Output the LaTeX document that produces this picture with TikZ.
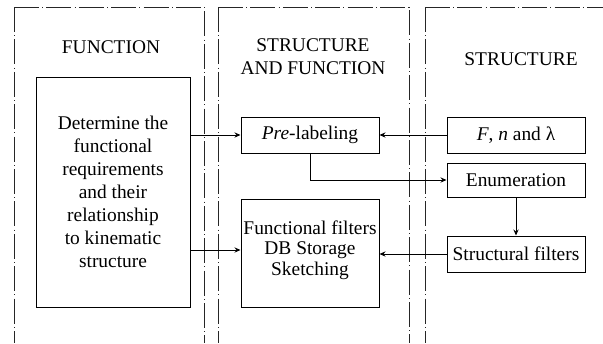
\documentclass[tikz,border=0pt]{standalone}
\usepackage{fontspec}
\setmainfont{Liberation Serif}
\usetikzlibrary{arrows.meta}
\begin{document}
\begin{tikzpicture}[x=0.5pt,y=-0.5pt,
  every node/.style={font=\fontsize{9.7}{11.5}\selectfont, inner sep=0pt},
  panel/.style={line width=0.45pt, draw=black!85,
    dash pattern=on 12.5pt off 1.6pt on 0.5pt off 1.6pt},
  box/.style={draw, line width=0.5pt, align=center, minimum width=69pt, minimum height=18pt},
  title/.style={align=center},
  arr/.style={line width=0.5pt, -{Stealth[length=3pt,width=2.6pt]}}]
\useasboundingbox (0,0) rectangle (603,343);

% dash-dot panel outlines, open at the bottom
\draw[panel] (14,7) -- (14,343);
\draw[panel] (14,7) -- (204,7) -- (204,343);
\draw[panel] (218,7) -- (218,343);
\draw[panel] (218,7) -- (409,7) -- (409,343);
\draw[panel] (425,7) -- (425,343);
\draw[panel] (425,7) -- (603,7);

% panel headings
\node[title] (hfun) at (111,47) {FUNCTION};
\node[title] (hsf) at (313,56.5) {STRUCTURE\\AND FUNCTION};
\node[title] (hstr) at (521,59) {STRUCTURE};

% boxes
\node[box, minimum width=77pt, minimum height=115pt] (req) at (113,192)
  {Determine the\\functional\\requirements\\and their\\relationship\\to kinematic\\structure};
\node[box] (pre) at (310,135) {\textit{Pre}-labeling};
\node[box] (fnl) at (516,135) {\textit{F}, \textit{n} and λ};
\node[box, minimum height=17pt] (enu) at (516,180) {Enumeration};
\node[box] (stf) at (516,254) {Structural filters};
\node[box, minimum width=69pt, minimum height=54pt] (fun) at (310,253) {};
\node[align=center, font=\fontsize{9.7}{10.3}\selectfont] (funtxt) at (310,250)
  {Functional filters\\DB Storage\\Sketching};

% connectors
\draw[arr] (req.east |- pre.west) -- (pre.west);
\draw[arr] (req.east |- 0,250) -- (fun.west |- 0,250);
\draw[arr] (fnl.west) -- (pre.east);
\draw[arr] (pre.south) |- (enu.west);
\draw[arr] (enu.south) -- (stf.north);
\draw[arr] (stf.west) -- (stf.west -| fun.east);
\end{tikzpicture}
\end{document}
